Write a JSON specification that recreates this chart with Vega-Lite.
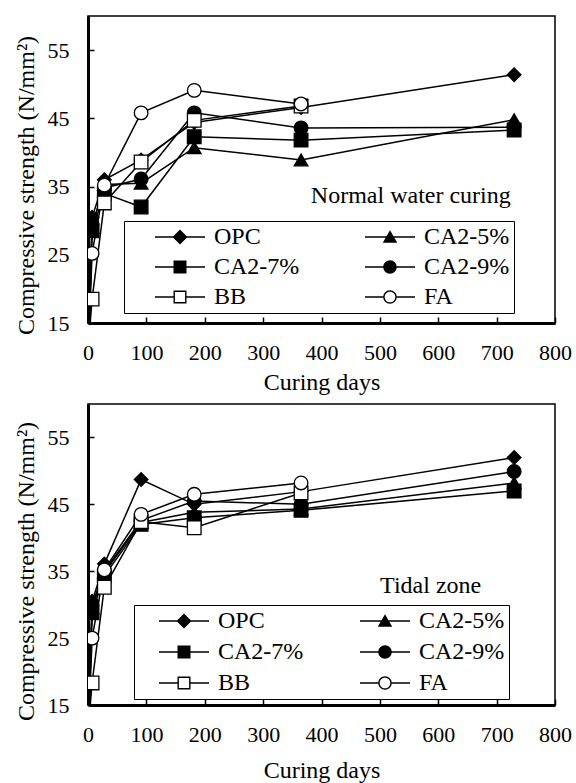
{
  "$schema": "https://vega.github.io/schema/vega-lite/v6.json",
  "background": "white",
  "padding": {"left": 13, "top": 15, "right": 5, "bottom": 0},
  "spacing": 8,
  "config": {
    "font": "Liberation Serif, Times New Roman, Times, serif",
    "view": {"stroke": "black", "strokeWidth": 1.5},
    "axis": {
      "labelFont": "Liberation Serif, Times New Roman, Times, serif", "titleFont": "Liberation Serif, Times New Roman, Times, serif",
      "labelFontSize": 22, "titleFontSize": 24, "labelColor": "black", "titleColor": "black",
      "titleFontWeight": "normal", "grid": false, "domainColor": "black", "domainWidth": 3,
      "tickColor": "black", "tickWidth": 1.5, "tickSize": -6, "labelPadding": 25, "labelFlush": false, "labelOverlap": false
    },
    "legend": {"labelFont": "Liberation Serif, Times New Roman, Times, serif"}
  },
  "datasets": {
    "d": [
      {"panel": "normal", "series": "OPC", "day": 1, "value": 12},
      {"panel": "normal", "series": "OPC", "day": 7, "value": 30.5},
      {"panel": "normal", "series": "OPC", "day": 28, "value": 36.0},
      {"panel": "normal", "series": "OPC", "day": 91, "value": 38.9},
      {"panel": "normal", "series": "OPC", "day": 182, "value": 44.4},
      {"panel": "normal", "series": "OPC", "day": 365, "value": 46.6},
      {"panel": "normal", "series": "OPC", "day": 730, "value": 51.4},
      {"panel": "normal", "series": "CA2-5%", "day": 1, "value": 12},
      {"panel": "normal", "series": "CA2-5%", "day": 7, "value": 29.0},
      {"panel": "normal", "series": "CA2-5%", "day": 28, "value": 35.3},
      {"panel": "normal", "series": "CA2-5%", "day": 91, "value": 35.5},
      {"panel": "normal", "series": "CA2-5%", "day": 182, "value": 40.7},
      {"panel": "normal", "series": "CA2-5%", "day": 365, "value": 38.9},
      {"panel": "normal", "series": "CA2-5%", "day": 730, "value": 44.8},
      {"panel": "normal", "series": "CA2-7%", "day": 1, "value": 12},
      {"panel": "normal", "series": "CA2-7%", "day": 7, "value": 28.5},
      {"panel": "normal", "series": "CA2-7%", "day": 28, "value": 34.0},
      {"panel": "normal", "series": "CA2-7%", "day": 91, "value": 32.0},
      {"panel": "normal", "series": "CA2-7%", "day": 182, "value": 42.3},
      {"panel": "normal", "series": "CA2-7%", "day": 365, "value": 41.8},
      {"panel": "normal", "series": "CA2-7%", "day": 730, "value": 43.3},
      {"panel": "normal", "series": "CA2-9%", "day": 1, "value": 12},
      {"panel": "normal", "series": "CA2-9%", "day": 7, "value": 29.5},
      {"panel": "normal", "series": "CA2-9%", "day": 28, "value": 34.8},
      {"panel": "normal", "series": "CA2-9%", "day": 91, "value": 36.1},
      {"panel": "normal", "series": "CA2-9%", "day": 182, "value": 45.8},
      {"panel": "normal", "series": "CA2-9%", "day": 365, "value": 43.6},
      {"panel": "normal", "series": "CA2-9%", "day": 730, "value": 43.7},
      {"panel": "normal", "series": "BB", "day": 1, "value": 12},
      {"panel": "normal", "series": "BB", "day": 7, "value": 18.5},
      {"panel": "normal", "series": "BB", "day": 28, "value": 32.6},
      {"panel": "normal", "series": "BB", "day": 91, "value": 38.6},
      {"panel": "normal", "series": "BB", "day": 182, "value": 44.7},
      {"panel": "normal", "series": "BB", "day": 365, "value": 46.8},
      {"panel": "normal", "series": "FA", "day": 1, "value": 12},
      {"panel": "normal", "series": "FA", "day": 7, "value": 25.2},
      {"panel": "normal", "series": "FA", "day": 28, "value": 35.2},
      {"panel": "normal", "series": "FA", "day": 91, "value": 45.8},
      {"panel": "normal", "series": "FA", "day": 182, "value": 49.1},
      {"panel": "normal", "series": "FA", "day": 365, "value": 47.1},
      {"panel": "tidal", "series": "OPC", "day": 1, "value": 12},
      {"panel": "tidal", "series": "OPC", "day": 7, "value": 30.5},
      {"panel": "tidal", "series": "OPC", "day": 28, "value": 36.1},
      {"panel": "tidal", "series": "OPC", "day": 91, "value": 48.7},
      {"panel": "tidal", "series": "OPC", "day": 182, "value": 45.0},
      {"panel": "tidal", "series": "OPC", "day": 365, "value": 46.9},
      {"panel": "tidal", "series": "OPC", "day": 730, "value": 52.0},
      {"panel": "tidal", "series": "CA2-5%", "day": 1, "value": 12},
      {"panel": "tidal", "series": "CA2-5%", "day": 7, "value": 29.5},
      {"panel": "tidal", "series": "CA2-5%", "day": 28, "value": 34.8},
      {"panel": "tidal", "series": "CA2-5%", "day": 91, "value": 42.3},
      {"panel": "tidal", "series": "CA2-5%", "day": 182, "value": 43.8},
      {"panel": "tidal", "series": "CA2-5%", "day": 365, "value": 44.3},
      {"panel": "tidal", "series": "CA2-5%", "day": 730, "value": 48.2},
      {"panel": "tidal", "series": "CA2-7%", "day": 1, "value": 12},
      {"panel": "tidal", "series": "CA2-7%", "day": 7, "value": 28.8},
      {"panel": "tidal", "series": "CA2-7%", "day": 28, "value": 34.3},
      {"panel": "tidal", "series": "CA2-7%", "day": 91, "value": 42.0},
      {"panel": "tidal", "series": "CA2-7%", "day": 182, "value": 43.0},
      {"panel": "tidal", "series": "CA2-7%", "day": 365, "value": 44.1},
      {"panel": "tidal", "series": "CA2-7%", "day": 730, "value": 47.0},
      {"panel": "tidal", "series": "CA2-9%", "day": 1, "value": 12},
      {"panel": "tidal", "series": "CA2-9%", "day": 7, "value": 30.0},
      {"panel": "tidal", "series": "CA2-9%", "day": 28, "value": 35.0},
      {"panel": "tidal", "series": "CA2-9%", "day": 91, "value": 42.6},
      {"panel": "tidal", "series": "CA2-9%", "day": 182, "value": 45.5},
      {"panel": "tidal", "series": "CA2-9%", "day": 365, "value": 45.0},
      {"panel": "tidal", "series": "CA2-9%", "day": 730, "value": 49.9},
      {"panel": "tidal", "series": "BB", "day": 1, "value": 12},
      {"panel": "tidal", "series": "BB", "day": 7, "value": 18.3},
      {"panel": "tidal", "series": "BB", "day": 28, "value": 32.6},
      {"panel": "tidal", "series": "BB", "day": 91, "value": 42.4},
      {"panel": "tidal", "series": "BB", "day": 182, "value": 41.5},
      {"panel": "tidal", "series": "BB", "day": 365, "value": 46.7},
      {"panel": "tidal", "series": "FA", "day": 1, "value": 12},
      {"panel": "tidal", "series": "FA", "day": 7, "value": 25.0},
      {"panel": "tidal", "series": "FA", "day": 28, "value": 35.2},
      {"panel": "tidal", "series": "FA", "day": 91, "value": 43.5},
      {"panel": "tidal", "series": "FA", "day": 182, "value": 46.5},
      {"panel": "tidal", "series": "FA", "day": 365, "value": 48.2}
    ]
  },
  "vconcat": [
    {
      "width": 467, "height": 307,
      "data": {"name": "d"},
      "transform": [{"filter": "datum.panel === 'normal'"}],
      "encoding": {
        "x": {"field": "day", "type": "quantitative", "scale": {"domain": [0, 800], "nice": false, "zero": false},
              "axis": {"title": "Curing days", "values": [0, 100, 200, 300, 400, 500, 600, 700, 800], "titlePadding": 7}},
        "y": {"field": "value", "type": "quantitative", "scale": {"domain": [15, 60], "nice": false, "zero": false},
              "axis": {"title": "Compressive strength (N/mm²)", "values": [15, 25, 35, 45, 55], "titlePadding": 9, "titleY": 169}}
      },
      "layer": [
        {"mark": {"type": "line", "color": "black", "strokeWidth": 1.5, "clip": true},
         "encoding": {"detail": {"field": "series"}}},
        {"mark": {"type": "point", "size": 185, "stroke": "black", "strokeWidth": 1.3, "opacity": 1, "clip": true},
         "encoding": {
           "shape": {"field": "series", "scale": {"domain": ["OPC", "CA2-5%", "CA2-7%", "CA2-9%", "BB", "FA"], "range": ["diamond", "triangle-up", "square", "circle", "square", "circle"]}, "legend": null},
           "fill": {"condition": {"test": "datum.series === 'BB' || datum.series === 'FA'", "value": "white"}, "value": "black"}
         }},
        {"mark": {"type": "point", "filled": true, "color": "black", "opacity": 0, "size": 0},
         "encoding": {
           "shape": {"field": "series",
             "scale": {"domain": ["OPC", "CA2-5%", "CA2-7%", "CA2-9%", "BB", "FA"],
               "range": [
                 "M-5,-0.15H5V0.15H-5Z M-1.5,0L0,-1.5L1.5,0L0,1.5Z",
                 "M-5,-0.15H5V0.15H-5Z M0,-1.35L1.45,1.15L-1.45,1.15Z",
                 "M-5,-0.15H5V0.15H-5Z M-1.3,-1.3H1.3V1.3H-1.3Z",
                 "M-5,-0.15H5V0.15H-5Z M-1.35,0A1.35,1.35,0,1,1,1.35,0A1.35,1.35,0,1,1,-1.35,0Z",
                 "M-5,-0.15H-1.3V0.15H-5Z M1.3,-0.15H5V0.15H1.3Z M-1.3,-1.3H1.3V1.3H-1.3Z M-1.02,-1.02V1.02H1.02V-1.02Z",
                 "M-5,-0.15H-1.35V0.15H-5Z M1.35,-0.15H5V0.15H1.35Z M-1.35,0A1.35,1.35,0,1,1,1.35,0A1.35,1.35,0,1,1,-1.35,0Z M-1.07,0A1.07,1.07,0,1,0,1.07,0A1.07,1.07,0,1,0,-1.07,0Z"
               ]},
             "legend": {"orient": "none", "legendX": 36, "legendY": 205, "columns": 2, "direction": "horizontal",
               "title": "\u00a0", "titleOrient": "left", "titleFontSize": 1, "titlePadding": 40,
               "labelFont": "Liberation Serif, Times New Roman, Times, serif", "labelFontSize": 24, "labelColor": "black",
               "labelExpr": "datum.label + '\u00a0'",
               "symbolSize": 100, "symbolStrokeWidth": 0, "symbolFillColor": "black", "symbolOpacity": 1,
               "labelOffset": 22, "rowPadding": 6, "columnPadding": 65, "strokeColor": "black", "padding": 4}}
         }},
        {"transform": [{"filter": "datum.series === 'OPC' && datum.day === 730"}],
         "mark": {"type": "text", "font": "Liberation Serif, Times New Roman, Times, serif", "fontSize": 24, "align": "center", "baseline": "middle", "color": "black"},
         "encoding": {"x": {"datum": 553}, "y": {"datum": 33.6}, "text": {"value": "Normal water curing"}}}
      ],
      "resolve": {"scale": {"shape": "independent"}}
    },
    {
      "width": 467, "height": 301,
      "data": {"name": "d"},
      "transform": [{"filter": "datum.panel === 'tidal'"}],
      "encoding": {
        "x": {"field": "day", "type": "quantitative", "scale": {"domain": [0, 800], "nice": false, "zero": false},
              "axis": {"title": "Curing days", "values": [0, 100, 200, 300, 400, 500, 600, 700, 800], "titlePadding": 13}},
        "y": {"field": "value", "type": "quantitative", "scale": {"domain": [15, 60], "nice": false, "zero": false},
              "axis": {"title": "Compressive strength (N/mm²)", "values": [15, 25, 35, 45, 55], "titlePadding": 9, "titleY": 167}}
      },
      "layer": [
        {"mark": {"type": "line", "color": "black", "strokeWidth": 1.5, "clip": true},
         "encoding": {"detail": {"field": "series"}}},
        {"mark": {"type": "point", "size": 185, "stroke": "black", "strokeWidth": 1.3, "opacity": 1, "clip": true},
         "encoding": {
           "shape": {"field": "series", "scale": {"domain": ["OPC", "CA2-5%", "CA2-7%", "CA2-9%", "BB", "FA"], "range": ["diamond", "triangle-up", "square", "circle", "square", "circle"]}, "legend": null},
           "fill": {"condition": {"test": "datum.series === 'BB' || datum.series === 'FA'", "value": "white"}, "value": "black"}
         }},
        {"mark": {"type": "point", "filled": true, "color": "black", "opacity": 0, "size": 0},
         "encoding": {
           "shape": {"field": "series",
             "scale": {"domain": ["OPC", "CA2-5%", "CA2-7%", "CA2-9%", "BB", "FA"],
               "range": [
                 "M-5,-0.15H5V0.15H-5Z M-1.5,0L0,-1.5L1.5,0L0,1.5Z",
                 "M-5,-0.15H5V0.15H-5Z M0,-1.35L1.45,1.15L-1.45,1.15Z",
                 "M-5,-0.15H5V0.15H-5Z M-1.3,-1.3H1.3V1.3H-1.3Z",
                 "M-5,-0.15H5V0.15H-5Z M-1.35,0A1.35,1.35,0,1,1,1.35,0A1.35,1.35,0,1,1,-1.35,0Z",
                 "M-5,-0.15H-1.3V0.15H-5Z M1.3,-0.15H5V0.15H1.3Z M-1.3,-1.3H1.3V1.3H-1.3Z M-1.02,-1.02V1.02H1.02V-1.02Z",
                 "M-5,-0.15H-1.35V0.15H-5Z M1.35,-0.15H5V0.15H1.35Z M-1.35,0A1.35,1.35,0,1,1,1.35,0A1.35,1.35,0,1,1,-1.35,0Z M-1.07,0A1.07,1.07,0,1,0,1.07,0A1.07,1.07,0,1,0,-1.07,0Z"
               ]},
             "legend": {"orient": "none", "legendX": 46, "legendY": 201, "columns": 2, "direction": "horizontal",
               "title": "\u00a0", "titleOrient": "left", "titleFontSize": 1, "titlePadding": 34,
               "labelFont": "Liberation Serif, Times New Roman, Times, serif", "labelFontSize": 24, "labelColor": "black",
               "labelExpr": "datum.label + '\u00a0'",
               "symbolSize": 100, "symbolStrokeWidth": 0, "symbolFillColor": "black", "symbolOpacity": 1,
               "labelOffset": 22, "rowPadding": 7, "columnPadding": 56, "strokeColor": "black", "padding": 4}}
         }},
        {"transform": [{"filter": "datum.series === 'OPC' && datum.day === 730"}],
         "mark": {"type": "text", "font": "Liberation Serif, Times New Roman, Times, serif", "fontSize": 24, "align": "center", "baseline": "middle", "color": "black"},
         "encoding": {"x": {"datum": 587}, "y": {"datum": 32.8}, "text": {"value": "Tidal zone"}}}
      ],
      "resolve": {"scale": {"shape": "independent"}}
    }
  ]
}
